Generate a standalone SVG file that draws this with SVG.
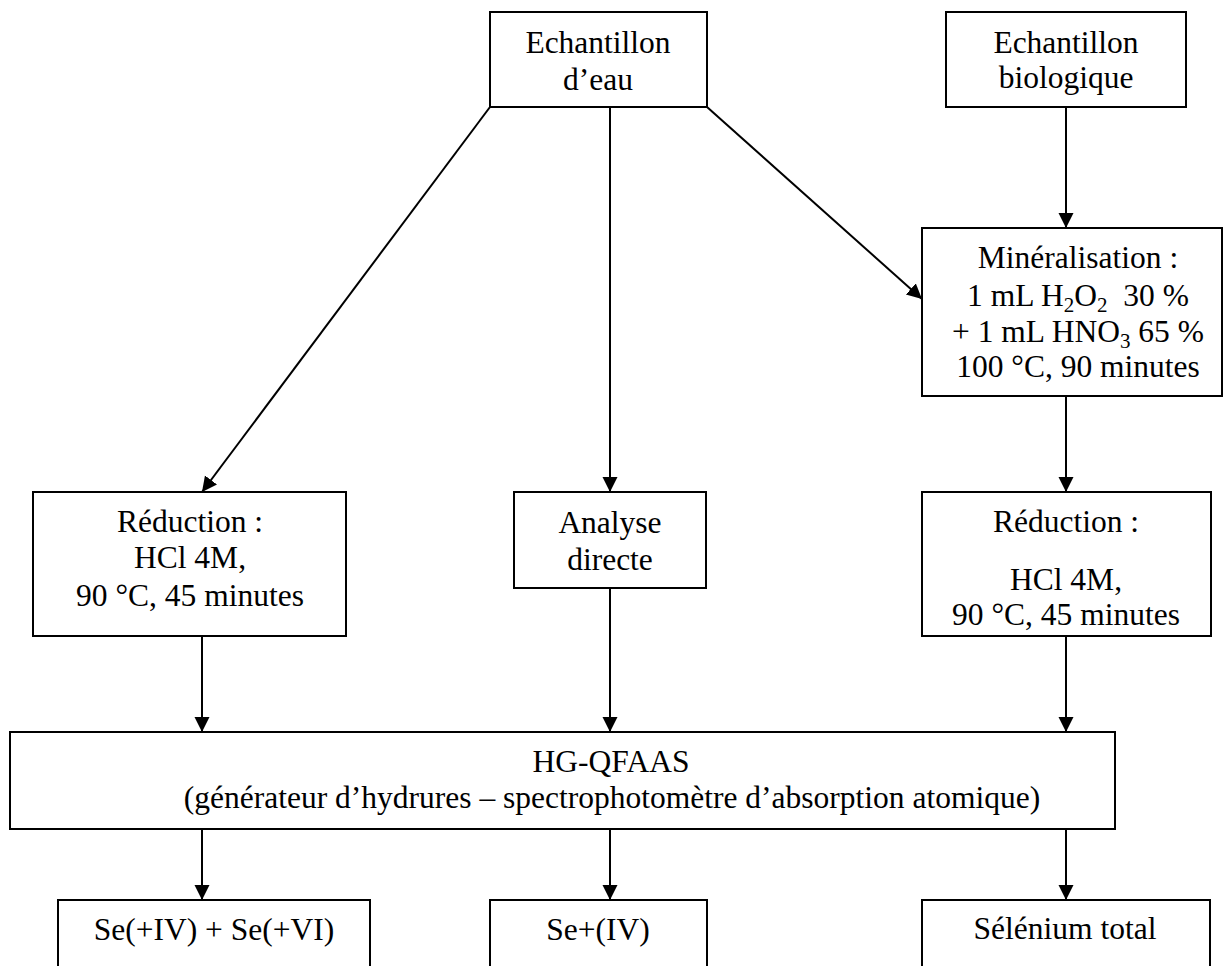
<svg xmlns="http://www.w3.org/2000/svg" width="1223" height="966" viewBox="0 0 1223 966">
<style>
.box{fill:#fff;stroke:#000;stroke-width:2}
.t{font-family:"Liberation Serif","Times New Roman",serif;font-size:31.5px;fill:#000;text-anchor:middle}
.sub{font-size:21px}
.c{stroke:#000;stroke-width:2;fill:none;marker-end:url(#ah)}
</style>
<defs>
<marker id="ah" markerUnits="userSpaceOnUse" markerWidth="16" markerHeight="16" refX="15" refY="7.5" orient="auto">
<path d="M0,0 L15,7.5 L0,15 z" fill="#000"/>
</marker>
</defs>
<rect width="1223" height="966" fill="#fff"/>
<g id="connectors">
<line class="c" x1="490" y1="107" x2="202" y2="492"/>
<line class="c" x1="610" y1="107" x2="610" y2="492"/>
<line class="c" x1="707" y1="107" x2="922" y2="299"/>
<line class="c" x1="1066" y1="107" x2="1066" y2="228"/>
<line class="c" x1="1066" y1="396" x2="1066" y2="492"/>
<line class="c" x1="202" y1="636" x2="202" y2="732"/>
<line class="c" x1="610" y1="588" x2="610" y2="732"/>
<line class="c" x1="1066" y1="636" x2="1066" y2="732"/>
<line class="c" x1="202" y1="829" x2="202" y2="900"/>
<line class="c" x1="610" y1="829" x2="610" y2="900"/>
<line class="c" x1="1066" y1="829" x2="1066" y2="900"/>
</g>
<g id="eau">
<rect class="box" x="490" y="12" width="217" height="95"/>
<text class="t" x="598" y="53">Echantillon</text>
<text class="t" x="598" y="90">d’eau</text>
</g>
<g id="bio">
<rect class="box" x="946" y="12" width="240" height="95"/>
<text class="t" x="1066" y="53">Echantillon</text>
<text class="t" x="1066" y="88">biologique</text>
</g>
<g id="mineralisation">
<rect class="box" x="922" y="228" width="300" height="168"/>
<text class="t" x="1078" y="268">Minéralisation :</text>
<text class="t" x="1078" y="306" xml:space="preserve">1 mL H<tspan class="sub" dy="6">2</tspan><tspan dy="-6">O</tspan><tspan class="sub" dy="6">2</tspan><tspan dy="-6">  30 %</tspan></text>
<text class="t" x="1078" y="342">+ 1 mL HNO<tspan class="sub" dy="6">3</tspan><tspan dy="-6"> 65 %</tspan></text>
<text class="t" x="1078" y="377">100 °C, 90 minutes</text>
</g>
<g id="reduction-left">
<rect class="box" x="33" y="492" width="313" height="144"/>
<text class="t" x="190" y="532">Réduction :</text>
<text class="t" x="190" y="568">HCl 4M,</text>
<text class="t" x="190" y="606">90 °C, 45 minutes</text>
</g>
<g id="analyse">
<rect class="box" x="514" y="492" width="192" height="96"/>
<text class="t" x="610" y="533">Analyse</text>
<text class="t" x="610" y="570">directe</text>
</g>
<g id="reduction-right">
<rect class="box" x="922" y="492" width="289" height="144"/>
<text class="t" x="1066" y="532">Réduction :</text>
<text class="t" x="1066" y="590">HCl 4M,</text>
<text class="t" x="1066" y="625">90 °C, 45 minutes</text>
</g>
<g id="hgqfaas">
<rect class="box" x="10" y="732" width="1105" height="97"/>
<text class="t" x="611" y="772">HG-QFAAS</text>
<text class="t" x="612" y="808">(générateur d’hydrures – spectrophotomètre d’absorption atomique)</text>
</g>
<g id="se-iv-vi">
<rect class="box" x="58" y="900" width="312" height="80"/>
<text class="t" x="214" y="940">Se(+IV) + Se(+VI)</text>
</g>
<g id="se-iv">
<rect class="box" x="490" y="900" width="217" height="80"/>
<text class="t" x="598" y="940">Se+(IV)</text>
</g>
<g id="se-total">
<rect class="box" x="922" y="900" width="288" height="80"/>
<text class="t" x="1065" y="939">Sélénium total</text>
</g>
</svg>
